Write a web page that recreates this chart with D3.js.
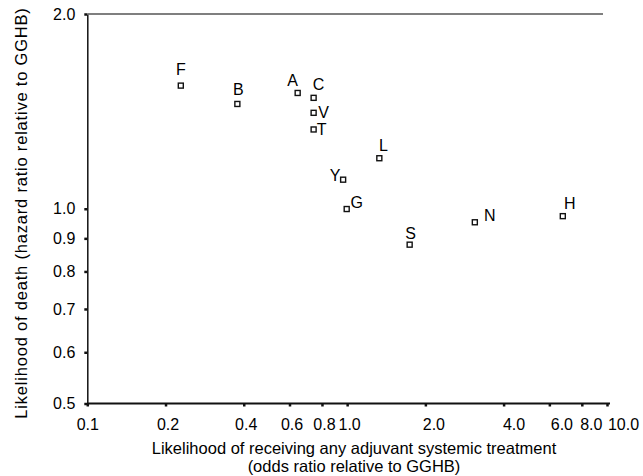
<!DOCTYPE html>
<html lang="en">
<head>
<meta charset="UTF-8">
<title>Likelihood of death vs adjuvant treatment</title>
<script src="https://d3js.org/d3.v7.min.js"></script>
<style>
  body { margin: 0; background: #fff; }
  svg text { font-family: "Liberation Sans", Arial, sans-serif; fill: #000; }
</style>
</head>
<body>
<div id="chart"></div>
<script>
// hospitals (letter codes) and their ratios relative to GGHB
const codes = ["F", "B", "A", "C", "V", "T", "L", "Y", "G", "S", "N", "H"];
const oddsRatio = [0.229, 0.378, 0.645, 0.743, 0.743, 0.743, 1.33, 0.965, 0.996, 1.74, 3.10, 6.76];
const hazardRatio = [1.55, 1.452, 1.51, 1.484, 1.407, 1.326, 1.197, 1.109, 0.999, 0.880, 0.953, 0.974];

const xTicks = [0.1, 0.2, 0.4, 0.6, 0.8, 1.0, 2.0, 4.0, 6.0, 8.0, 10.0];
const yTicks = [0.5, 0.6, 0.7, 0.8, 0.9, 1.0, 2.0];

// where each letter sits relative to its square
const labelOffset = {
  F: [0, -11], B: [1, -9], A: [-5, -7], C: [5, -8], V: [10, 5], T: [8, 5.5],
  L: [4, -7], Y: [-8, 1], G: [10, -1], S: [1, -6], N: [15, -1], H: [7, -7]
};
// the printed x labels drift right of their ticks
const xLabelShift = [0, 2, 2, 2, 2, 2, 8, 10, 12, 9, 16];

const width = 643, height = 476;
const margin = { top: 14, right: 36, bottom: 72.5, left: 87.3 };

const x = d3.scaleLog().domain([0.1, 10]).range([margin.left, width - margin.right]);
const y = d3.scaleLog().domain([0.5, 2]).range([height - margin.bottom, margin.top]);

const svg = d3.select("#chart").append("svg")
  .attr("width", width).attr("height", height);

const fmt = d3.format(".1f");

// x axis
const gx = svg.append("g")
  .attr("transform", `translate(0,${y(0.5)})`)
  .call(d3.axisBottom(x).tickValues(xTicks).tickFormat(fmt).tickSize(3).tickPadding(12).tickSizeOuter(0));
gx.select(".domain").attr("d", `M${x(0.1)},0H${x(10) + 3}`).attr("stroke", "#111").attr("stroke-width", 2);
gx.selectAll(".tick line").attr("stroke", "#111").attr("stroke-width", 2.5);
gx.selectAll(".tick text")
  .attr("font-size", 16).attr("font-family", "Liberation Sans, Arial, sans-serif").attr("fill", "#000")
  .attr("dx", (d, i) => xLabelShift[i]);

// y axis
const gy = svg.append("g")
  .attr("transform", `translate(${x(0.1)},0)`)
  .call(d3.axisLeft(y).tickValues(yTicks).tickFormat(fmt).tickSize(3).tickPadding(9).tickSizeOuter(0));
gy.select(".domain").attr("stroke", "#111").attr("stroke-width", 1.5);
gy.selectAll(".tick line").attr("stroke", "#111").attr("stroke-width", 2.5);
gy.selectAll(".tick text").attr("font-size", 16).attr("font-family", "Liberation Sans, Arial, sans-serif").attr("fill", "#000");

// faint top rule at 2.0
svg.append("line")
  .attr("x1", x(0.1)).attr("x2", x(10) - 4)
  .attr("y1", y(2)).attr("y2", y(2))
  .attr("stroke", "#555").attr("stroke-width", 1.3);

// points
const pts = codes.map((c, i) => ({ code: c, or: oddsRatio[i], hr: hazardRatio[i] }));

svg.append("g").selectAll("rect")
  .data(pts).join("rect")
  .attr("x", d => x(d.or) - 2.5)
  .attr("y", d => y(d.hr) - 2.5)
  .attr("width", 5).attr("height", 5)
  .attr("fill", "#fff").attr("stroke", "#111").attr("stroke-width", 1.4);

svg.append("g").selectAll("text")
  .data(pts).join("text")
  .attr("x", d => x(d.or) + labelOffset[d.code][0])
  .attr("y", d => y(d.hr) + labelOffset[d.code][1])
  .attr("text-anchor", "middle")
  .attr("font-size", 16)
  .text(d => d.code);

// axis titles
svg.append("text")
  .attr("x", 354).attr("y", 454)
  .attr("text-anchor", "middle").attr("font-size", 16.5)
  .text("Likelihood of receiving any adjuvant systemic treatment");
svg.append("text")
  .attr("x", 354).attr("y", 472)
  .attr("text-anchor", "middle").attr("font-size", 16.5)
  .text("(odds ratio relative to GGHB)");

svg.append("text")
  .attr("transform", "translate(27,213) rotate(-90)")
  .attr("text-anchor", "middle").attr("font-size", 16.5)
  .attr("letter-spacing", 0.8)
  .text("Likelihood of death (hazard ratio relative to GGHB)");
</script>
</body>
</html>
